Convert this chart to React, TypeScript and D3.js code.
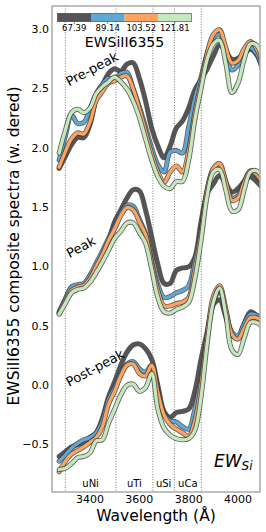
import React from 'react'
import * as d3 from 'd3'

// composite spectra split by EW(SiII 6355), three epochs offset vertically
const wavelengths = [
  3275, 3300, 3325, 3350, 3375, 3400, 3425, 3450, 3475, 3500, 3525, 3550,
  3575, 3600, 3625, 3650, 3675, 3700, 3725, 3750, 3775, 3800, 3825, 3850,
  3875, 3900, 3925, 3950, 3975, 4000, 4025, 4050, 4075, 4100,
]

const ewBins = ['67.39', '89.14', '103.52', '121.81']
const binColors = ['#555555', '#5fa8d6', '#fda461', '#c5e8bf']

// pre-peak
const pre6739 = [1.83, 1.93, 2.03, 2.09, 2.09, 2.2, 2.42, 2.53, 2.63, 2.67, 2.65, 2.71, 2.72, 2.59, 2.4, 2.17, 2.02, 1.92, 2.02, 2.17, 2.23, 2.34, 2.49, 2.58, 2.67, 2.78, 2.87, 2.82, 2.75, 2.76, 2.8, 2.835, 2.79, 2.66]
const pre8914 = [1.9, 2.1, 2.28, 2.21, 2.22, 2.33, 2.46, 2.54, 2.59, 2.58, 2.63, 2.64, 2.5, 2.35, 2.18, 2.0, 1.86, 1.8, 1.97, 1.98, 1.96, 2.18, 2.42, 2.6, 2.8, 2.93, 2.96, 2.8, 2.66, 2.7, 2.8, 2.85, 2.8, 2.68]
const pre10352 = [1.84, 1.97, 2.08, 2.13, 2.12, 2.22, 2.4, 2.48, 2.55, 2.57, 2.6, 2.61, 2.5, 2.33, 2.14, 1.95, 1.8, 1.71, 1.8, 1.85, 1.8, 1.98, 2.3, 2.55, 2.8, 2.96, 3.0, 2.85, 2.72, 2.74, 2.84, 2.9, 2.84, 2.72]
const pre12181 = [1.96, 2.15, 2.3, 2.33, 2.3, 2.34, 2.46, 2.52, 2.56, 2.6, 2.56, 2.5, 2.4, 2.26, 2.08, 1.9, 1.76, 1.68, 1.66, 1.72, 1.72, 1.9, 2.24, 2.5, 2.75, 2.88, 2.91, 2.72, 2.47, 2.55, 2.75, 2.88, 2.87, 2.74]

// peak
const peak6739 = [0.61, 0.72, 0.82, 0.82, 0.85, 0.92, 1.0, 1.1, 1.22, 1.38, 1.48, 1.58, 1.65, 1.64, 1.48, 1.25, 1.02, 0.86, 0.86, 0.97, 0.99, 1.0, 1.08, 1.38, 1.62, 1.7, 1.77, 1.7, 1.63, 1.66, 1.72, 1.76, 1.72, 1.66]
const peak8914 = [0.62, 0.73, 0.83, 0.85, 0.86, 0.93, 1.03, 1.13, 1.24, 1.34, 1.45, 1.52, 1.51, 1.4, 1.28, 1.05, 0.85, 0.74, 0.75, 0.78, 0.8, 0.84, 1.05, 1.3, 1.65, 1.82, 1.85, 1.72, 1.58, 1.6, 1.72, 1.8, 1.77, 1.7]
const peak10352 = [0.61, 0.71, 0.8, 0.83, 0.84, 0.9, 1.0, 1.1, 1.22, 1.32, 1.43, 1.5, 1.48, 1.38, 1.27, 1.03, 0.8, 0.67, 0.67, 0.69, 0.7, 0.74, 0.98, 1.28, 1.65, 1.83, 1.87, 1.72, 1.56, 1.58, 1.71, 1.81, 1.78, 1.71]
const peak12181 = [0.6, 0.69, 0.78, 0.81, 0.82, 0.87, 0.95, 1.04, 1.14, 1.24, 1.3, 1.37, 1.37, 1.29, 1.2, 0.98, 0.74, 0.62, 0.61, 0.64, 0.66, 0.7, 0.9, 1.22, 1.6, 1.8, 1.82, 1.65, 1.47, 1.48, 1.65, 1.8, 1.81, 1.75]

// post-peak
const post6739 = [-0.6, -0.56, -0.52, -0.5, -0.48, -0.44, -0.4, -0.28, -0.1, 0.03, 0.17, 0.28, 0.34, 0.35, 0.31, 0.22, 0.0, -0.22, -0.27, -0.23, -0.22, -0.2, -0.05, 0.22, 0.45, 0.68, 0.72, 0.58, 0.42, 0.4, 0.52, 0.62, 0.59, 0.53]
const post8914 = [-0.64, -0.59, -0.53, -0.49, -0.46, -0.44, -0.4, -0.3, -0.12, -0.02, 0.1, 0.18, 0.2, 0.14, 0.11, 0.17, -0.05, -0.24, -0.3, -0.31, -0.35, -0.37, -0.2, 0.05, 0.4, 0.7, 0.8, 0.63, 0.45, 0.42, 0.52, 0.6, 0.59, 0.56]
const post10352 = [-0.73, -0.64, -0.58, -0.55, -0.52, -0.48, -0.44, -0.35, -0.16, -0.05, 0.08, 0.17, 0.18, 0.1, 0.08, 0.17, -0.06, -0.25, -0.33, -0.37, -0.4, -0.43, -0.3, 0.0, 0.42, 0.75, 0.84, 0.65, 0.43, 0.39, 0.48, 0.57, 0.57, 0.54]
const post12181 = [-0.71, -0.7, -0.66, -0.61, -0.6, -0.57, -0.47, -0.46, -0.32, -0.2, -0.08, 0.0, 0.01, -0.05, -0.02, 0.1, -0.2, -0.36, -0.42, -0.45, -0.46, -0.45, -0.38, -0.1, 0.35, 0.7, 0.82, 0.6, 0.3, 0.26, 0.4, 0.53, 0.53, 0.49]

const epochs = [
  { name: 'Pre-peak', series: [pre6739, pre8914, pre10352, pre12181] },
  { name: 'Peak', series: [peak6739, peak8914, peak10352, peak12181] },
  { name: 'Post-peak', series: [post6739, post8914, post10352, post12181] },
]

const featureEdges = [3300, 3505, 3655, 3742, 3851]
const featureNames = ['uNi', 'uTi', 'uSi', 'uCa']
const xTicks = [3400, 3600, 3800, 4000]
const yTicks = [-0.5, 0, 0.5, 1.0, 1.5, 2.0, 2.5, 3.0]

const W = 266
const H = 532
const m = { left: 52, right: 260, top: 6, bottom: 492 }
const font = 'DejaVu Sans, sans-serif'

export default function App() {
  const x = d3.scaleLinear().domain([3246, 4089]).range([m.left, m.right])
  const y = d3.scaleLinear().domain([-0.9, 3.2]).range([m.bottom, m.top])

  const line = d3
    .line<number>()
    .x((_, i) => x(wavelengths[i]))
    .y(d => y(d))
    .curve(d3.curveCatmullRom.alpha(0.5))

  const fmtY = (v: number) => d3.format('.1f')(v).replace('-', '\u2212')

  // colorbar geometry
  const cbX = 57.5
  const cbW = 134
  const seg = cbW / ewBins.length

  // rough label spots for the epoch annotations
  const labelPos = [
    { x: 92, y: 69 },
    { x: 81, y: 247 },
    { x: 95, y: 368 },
  ]

  return (
    <svg
      width={W}
      height={H}
      style={{ position: 'absolute', left: 0, top: 0, background: '#fff' }}
      fontFamily={font}
    >
      <defs>
        <clipPath id="plot">
          <rect x={m.left} y={m.top} width={m.right - m.left} height={m.bottom - m.top} />
        </clipPath>
      </defs>

      {/* feature regions */}
      {featureEdges.map(w => (
        <line
          key={w}
          x1={x(w)}
          x2={x(w)}
          y1={m.top}
          y2={m.bottom}
          stroke="#555"
          strokeWidth={0.8}
          strokeDasharray="1,1.6"
        />
      ))}

      <g clipPath="url(#plot)" fill="none" strokeLinejoin="round" strokeLinecap="round">
        {epochs.map(ep =>
          ep.series.map((s, j) =>
            j === 0 ? (
              <path key={ep.name + j} d={line(s) || ''} stroke={binColors[0]} strokeWidth={5} />
            ) : (
              <g key={ep.name + j}>
                <path d={line(s) || ''} stroke="#3a3a3a" strokeWidth={5} strokeOpacity={0.8} />
                <path d={line(s) || ''} stroke={binColors[j]} strokeWidth={3.3} />
              </g>
            )
          )
        )}
      </g>

      {/* frame */}
      <rect
        x={m.left}
        y={m.top}
        width={m.right - m.left}
        height={m.bottom - m.top}
        fill="none"
        stroke="#aaa"
        strokeWidth={1.5}
      />

      {/* epoch labels */}
      {epochs.map((ep, i) => (
        <text
          key={ep.name}
          x={labelPos[i].x}
          y={labelPos[i].y}
          fontSize={13}
          textAnchor="middle"
          dominantBaseline="central"
          transform={`rotate(-28 ${labelPos[i].x} ${labelPos[i].y})`}
        >
          {ep.name}
        </text>
      ))}

      {/* feature names */}
      {featureNames.map((n, i) => (
        <text
          key={n}
          x={(x(featureEdges[i]) + x(featureEdges[i + 1])) / 2}
          y={487}
          fontSize={10}
          textAnchor="middle"
        >
          {n}
        </text>
      ))}

      {/* colorbar */}
      {ewBins.map((b, i) => (
        <g key={b}>
          <rect x={cbX + i * seg} y={13.3} width={seg} height={8.4} fill={binColors[i]} />
          <line
            x1={cbX + (i + 0.5) * seg}
            x2={cbX + (i + 0.5) * seg}
            y1={21.7}
            y2={24}
            stroke="#333"
            strokeWidth={0.6}
          />
          <text x={cbX + (i + 0.5) * seg} y={31} fontSize={8.5} textAnchor="middle">
            {b}
          </text>
        </g>
      ))}
      <rect x={cbX} y={13.3} width={cbW} height={8.4} fill="none" stroke="#444" strokeWidth={0.6} />
      <text x={124.5} y={46.5} fontSize={14} textAnchor="middle">
        EWSiII6355
      </text>

      {/* EW_Si tag */}
      <text x={214} y={467} fontSize={17} fontStyle="italic">
        EW
        <tspan fontSize={12} dy={3}>
          Si
        </tspan>
      </text>

      {/* axes */}
      {xTicks.map(t => (
        <text key={t} x={x(t)} y={503} fontSize={11} textAnchor="middle">
          {t}
        </text>
      ))}
      {yTicks.map(t => (
        <text key={t} x={49} y={y(t)} fontSize={11} textAnchor="end" dominantBaseline="central">
          {fmtY(t)}
        </text>
      ))}
      <text x={156} y={521} fontSize={15.5} textAnchor="middle">
        Wavelength (Å)
      </text>
      <text
        x={0}
        y={0}
        fontSize={15.5}
        textAnchor="middle"
        transform={`translate(19 ${(m.top + m.bottom) / 2 - 3}) rotate(-90)`}
      >
        EWSiII6355 composite spectra (w. dered)
      </text>
    </svg>
  )
}
